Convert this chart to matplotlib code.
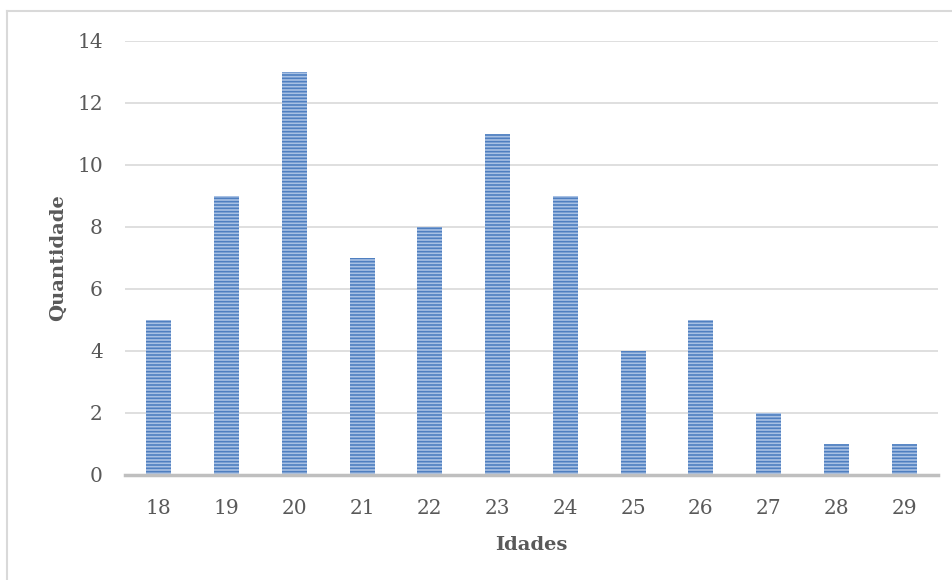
import matplotlib.pyplot as plt
from matplotlib.lines import Line2D

# Distribuição de idades
idades = ["18", "19", "20", "21", "22", "23", "24", "25", "26", "27", "28", "29"]
quantidade = [5, 9, 13, 7, 8, 11, 9, 4, 5, 2, 1, 1]
yticks = [0, 2, 4, 6, 8, 10, 12, 14]

plt.rcParams["font.family"] = ["DejaVu Serif"]
plt.rcParams["hatch.linewidth"] = 1.2

W, H = 952, 580
fig = plt.figure(figsize=(W / 100, H / 100), dpi=100)
ax = fig.add_axes([125 / W, 1 - 475 / H, (938 - 125) / W, (475 - 41) / H])

x = range(len(idades))
ax.bar(x, quantidade, width=0.37, color="#a8c1e4", edgecolor="#4f7fc0",
       hatch="-----", linewidth=0, zorder=3)

ax.set_xlim(-0.5, len(idades) - 0.5)
ax.set_ylim(0, 14)
ax.set_yticks(yticks)
ax.set_xticks(list(x))
ax.set_xticklabels(idades)

cinza = "#595959"
ax.tick_params(axis="both", length=0, labelsize=14.5, labelcolor=cinza)
ax.tick_params(axis="y", pad=16)
ax.tick_params(axis="x", pad=17)
ax.grid(axis="y", color="#d9d9d9", linewidth=1.2, zorder=0)
for s in ["top", "right", "left"]:
    ax.spines[s].set_visible(False)
ax.spines["bottom"].set_color("#bfbfbf")
ax.spines["bottom"].set_linewidth(2.5)
ax.spines["bottom"].set_zorder(4)

ax.set_xlabel("Idades", fontsize=14, fontweight="bold", color=cinza, labelpad=13)
ax.set_ylabel("Quantidade", fontsize=14, fontweight="bold", color=cinza, labelpad=7)

# moldura do gráfico (apenas topo e esquerda visíveis)
fig.add_artist(Line2D([7 / W, 7 / W], [0, 1 - 11 / H], color="#d9d9d9", linewidth=1.5))
fig.add_artist(Line2D([7 / W, 1], [1 - 11 / H, 1 - 11 / H], color="#d9d9d9", linewidth=1.5))

fig.savefig("out.png", dpi=100)
